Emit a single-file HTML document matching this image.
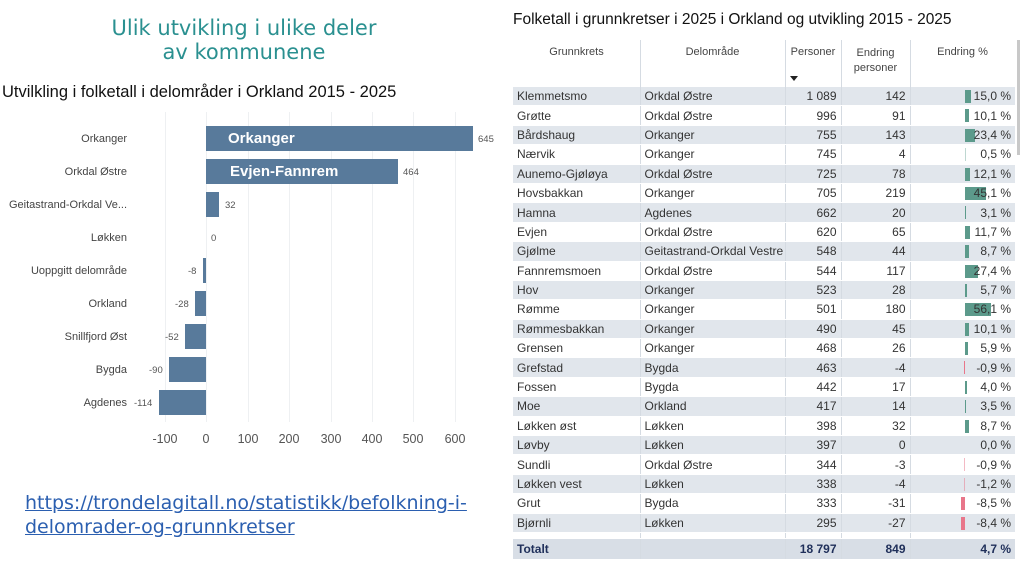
<!DOCTYPE html>
<html><head><meta charset="utf-8">
<style>
body{margin:0;width:1024px;height:564px;background:#fff;position:relative;overflow:hidden;font-family:"Liberation Sans",sans-serif;}
.a{position:absolute;white-space:nowrap;}
.h1{color:#2a9090;font-family:"DejaVu Sans",sans-serif;font-size:21px;text-align:center;width:300px;left:94px;line-height:24px;}
.cl{font-size:11px;color:#444;text-align:right;width:130px;left:-3px;}
.bar{position:absolute;background:#587a9b;height:25px;}
.vl{font-size:9.5px;color:#555;}
.grid{position:absolute;top:112px;height:310px;width:1px;background:#eef0f2;}
.tk{font-size:12.5px;color:#555;width:40px;text-align:center;top:432px;}
table{position:absolute;left:513px;top:87px;width:502px;border-collapse:collapse;font-size:12px;color:#333;table-layout:fixed;}
td{height:18.4px;padding:0 4px;border-left:1px solid #d5dbe2;border-bottom:1px solid #fff;white-space:nowrap;overflow:hidden;}
td:first-child{border-left:none;}
tr:nth-child(odd) td{background:#e1e6ec;}
td.n{text-align:right;}
td.p{text-align:right;position:relative;}
td.p b{font-weight:normal;position:relative;z-index:2;}
.pb{position:absolute;top:3px;height:13px;background:#5c9a8b;z-index:1;}
.nb{position:absolute;top:3px;height:13px;background:#e8768a;z-index:1;}
.hd{font-size:11px;color:#444;text-align:center;}
</style></head><body>
<div class="a h1" style="top:16px">Ulik utvikling i ulike deler<br>av kommunene</div>
<div class="a" style="left:2px;top:83px;font-size:16.5px;color:#111">Utvilkling i folketall i delområder i Orkland 2015 - 2025</div>

<div class="grid" style="left:165px"></div><div class="grid" style="left:206px"></div><div class="grid" style="left:248px"></div><div class="grid" style="left:289px"></div><div class="grid" style="left:331px"></div><div class="grid" style="left:372px"></div><div class="grid" style="left:413px"></div><div class="grid" style="left:455px"></div>

<div class="bar" style="left:206px;width:267px;top:126px"></div>
<div class="a" style="left:228px;top:130px;color:#fff;font-weight:bold;font-size:15px">Orkanger</div>
<div class="bar" style="left:206px;width:192px;top:159px"></div>
<div class="a" style="left:230px;top:163px;color:#fff;font-weight:bold;font-size:15px">Evjen-Fannrem</div>
<div class="bar" style="left:206px;width:13px;top:192px"></div>
<div class="bar" style="left:203px;width:3px;top:258px"></div>
<div class="bar" style="left:195px;width:11px;top:291px"></div>
<div class="bar" style="left:185px;width:21px;top:324px"></div>
<div class="bar" style="left:169px;width:37px;top:357px"></div>
<div class="bar" style="left:159px;width:47px;top:390px"></div>

<div class="a cl" style="top:133px">Orkanger</div>
<div class="a cl" style="top:166px">Orkdal Østre</div>
<div class="a cl" style="top:199px">Geitastrand-Orkdal Ve...</div>
<div class="a cl" style="top:232px">Løkken</div>
<div class="a cl" style="top:265px">Uoppgitt delområde</div>
<div class="a cl" style="top:298px">Orkland</div>
<div class="a cl" style="top:331px">Snillfjord Øst</div>
<div class="a cl" style="top:364px">Bygda</div>
<div class="a cl" style="top:397px">Agdenes</div>

<div class="a vl" style="left:478px;top:134px">645</div>
<div class="a vl" style="left:403px;top:167px">464</div>
<div class="a vl" style="left:225px;top:200px">32</div>
<div class="a vl" style="left:211px;top:233px">0</div>
<div class="a vl" style="left:188px;top:266px">-8</div>
<div class="a vl" style="left:175px;top:299px">-28</div>
<div class="a vl" style="left:165px;top:332px">-52</div>
<div class="a vl" style="left:149px;top:365px">-90</div>
<div class="a vl" style="left:134px;top:398px">-114</div>

<div class="a tk" style="left:145px">-100</div><div class="a tk" style="left:186px">0</div><div class="a tk" style="left:228px">100</div><div class="a tk" style="left:269px">200</div><div class="a tk" style="left:311px">300</div><div class="a tk" style="left:352px">400</div><div class="a tk" style="left:393px">500</div><div class="a tk" style="left:435px">600</div>

<div class="a" style="left:25px;top:491px;font-size:19px;color:#2b5fb0;text-decoration:underline;font-family:'DejaVu Sans',sans-serif;line-height:24px">https://trondelagitall.no/statistikk/befolkning-i-<br>delomrader-og-grunnkretser</div>

<div class="a" style="left:513px;top:11px;font-size:15.5px;color:#111">Folketall i grunnkretser i 2025 i Orkland og utvikling 2015 - 2025</div>
<div class="a" style="left:1017px;top:40px;width:3px;height:115px;background:#c8c8c8"></div>
<div class="a" style="left:640px;top:40px;width:1px;height:47px;background:#d5dbe2"></div>
<div class="a" style="left:785px;top:40px;width:1px;height:47px;background:#d5dbe2"></div>
<div class="a" style="left:841px;top:40px;width:1px;height:47px;background:#d5dbe2"></div>
<div class="a" style="left:910px;top:40px;width:1px;height:47px;background:#d5dbe2"></div>
<div class="a hd" style="left:513px;top:46px;width:127px">Grunnkrets</div>
<div class="a hd" style="left:640px;top:46px;width:145px">Delområde</div>
<div class="a hd" style="left:785px;top:46px;width:56px">Personer</div>
<div class="a hd" style="left:841px;top:46px;width:69px;line-height:15px">Endring<br>personer</div>
<div class="a hd" style="left:910px;top:46px;width:105px">Endring %</div>
<div class="a" style="left:790px;top:76px;width:0;height:0;border-left:4px solid transparent;border-right:4px solid transparent;border-top:5px solid #222"></div>

<table>
<colgroup><col style="width:127px"><col style="width:145px"><col style="width:56px"><col style="width:69px"><col style="width:105px"></colgroup>
<tr><td>Klemmetsmo</td><td>Orkdal Østre</td><td class="n">1 089</td><td class="n">142</td><td class="p"><span class="pb" style="left:54px;width:6px"></span><b>15,0 %</b></td></tr>
<tr><td>Grøtte</td><td>Orkdal Østre</td><td class="n">996</td><td class="n">91</td><td class="p"><span class="pb" style="left:54px;width:4px"></span><b>10,1 %</b></td></tr>
<tr><td>Bårdshaug</td><td>Orkanger</td><td class="n">755</td><td class="n">143</td><td class="p"><span class="pb" style="left:54px;width:10px"></span><b>23,4 %</b></td></tr>
<tr><td>Nærvik</td><td>Orkanger</td><td class="n">745</td><td class="n">4</td><td class="p"><span class="pb" style="left:54px;width:1px;opacity:.4"></span><b>0,5 %</b></td></tr>
<tr><td>Aunemo-Gjøløya</td><td>Orkdal Østre</td><td class="n">725</td><td class="n">78</td><td class="p"><span class="pb" style="left:54px;width:5px"></span><b>12,1 %</b></td></tr>
<tr><td>Hovsbakkan</td><td>Orkanger</td><td class="n">705</td><td class="n">219</td><td class="p"><span class="pb" style="left:54px;width:21px"></span><b>45,1 %</b></td></tr>
<tr><td>Hamna</td><td>Agdenes</td><td class="n">662</td><td class="n">20</td><td class="p"><span class="pb" style="left:54px;width:1px"></span><b>3,1 %</b></td></tr>
<tr><td>Evjen</td><td>Orkdal Østre</td><td class="n">620</td><td class="n">65</td><td class="p"><span class="pb" style="left:54px;width:5px"></span><b>11,7 %</b></td></tr>
<tr><td>Gjølme</td><td>Geitastrand-Orkdal Vestre</td><td class="n">548</td><td class="n">44</td><td class="p"><span class="pb" style="left:54px;width:4px"></span><b>8,7 %</b></td></tr>
<tr><td>Fannremsmoen</td><td>Orkdal Østre</td><td class="n">544</td><td class="n">117</td><td class="p"><span class="pb" style="left:54px;width:13px"></span><b>27,4 %</b></td></tr>
<tr><td>Hov</td><td>Orkanger</td><td class="n">523</td><td class="n">28</td><td class="p"><span class="pb" style="left:54px;width:2px"></span><b>5,7 %</b></td></tr>
<tr><td>Rømme</td><td>Orkanger</td><td class="n">501</td><td class="n">180</td><td class="p"><span class="pb" style="left:54px;width:26px"></span><b>56,1 %</b></td></tr>
<tr><td>Rømmesbakkan</td><td>Orkanger</td><td class="n">490</td><td class="n">45</td><td class="p"><span class="pb" style="left:54px;width:4px"></span><b>10,1 %</b></td></tr>
<tr><td>Grensen</td><td>Orkanger</td><td class="n">468</td><td class="n">26</td><td class="p"><span class="pb" style="left:54px;width:3px"></span><b>5,9 %</b></td></tr>
<tr><td>Grefstad</td><td>Bygda</td><td class="n">463</td><td class="n">-4</td><td class="p"><span class="nb" style="left:53px;width:1px"></span><b>-0,9 %</b></td></tr>
<tr><td>Fossen</td><td>Bygda</td><td class="n">442</td><td class="n">17</td><td class="p"><span class="pb" style="left:54px;width:2px"></span><b>4,0 %</b></td></tr>
<tr><td>Moe</td><td>Orkland</td><td class="n">417</td><td class="n">14</td><td class="p"><span class="pb" style="left:54px;width:1px"></span><b>3,5 %</b></td></tr>
<tr><td>Løkken øst</td><td>Løkken</td><td class="n">398</td><td class="n">32</td><td class="p"><span class="pb" style="left:54px;width:4px"></span><b>8,7 %</b></td></tr>
<tr><td>Løvby</td><td>Løkken</td><td class="n">397</td><td class="n">0</td><td class="p"><b>0,0 %</b></td></tr>
<tr><td>Sundli</td><td>Orkdal Østre</td><td class="n">344</td><td class="n">-3</td><td class="p"><span class="nb" style="left:53px;width:1px;opacity:.5"></span><b>-0,9 %</b></td></tr>
<tr><td>Løkken vest</td><td>Løkken</td><td class="n">338</td><td class="n">-4</td><td class="p"><span class="nb" style="left:53px;width:1px;opacity:.5"></span><b>-1,2 %</b></td></tr>
<tr><td>Grut</td><td>Bygda</td><td class="n">333</td><td class="n">-31</td><td class="p"><span class="nb" style="left:50px;width:4px"></span><b>-8,5 %</b></td></tr>
<tr><td>Bjørnli</td><td>Løkken</td><td class="n">295</td><td class="n">-27</td><td class="p"><span class="nb" style="left:50px;width:4px"></span><b>-8,4 %</b></td></tr>
<tr><td style="height:5px;background:#fff"></td><td style="height:5px;background:#fff"></td><td style="height:5px;background:#fff"></td><td style="height:5px;background:#fff"></td><td style="height:5px;background:#fff"></td></tr>
<tr style="font-weight:bold;color:#1f2f5a"><td style="height:20px;background:#d8dee6;border-top:1px solid #aab4c0">Totalt</td><td style="background:#d8dee6;border-top:1px solid #aab4c0"></td><td class="n" style="background:#d8dee6;border-top:1px solid #aab4c0">18 797</td><td class="n" style="background:#d8dee6;border-top:1px solid #aab4c0">849</td><td class="n" style="background:#d8dee6;border-top:1px solid #aab4c0">4,7 %</td></tr>
</table>
</body></html>
